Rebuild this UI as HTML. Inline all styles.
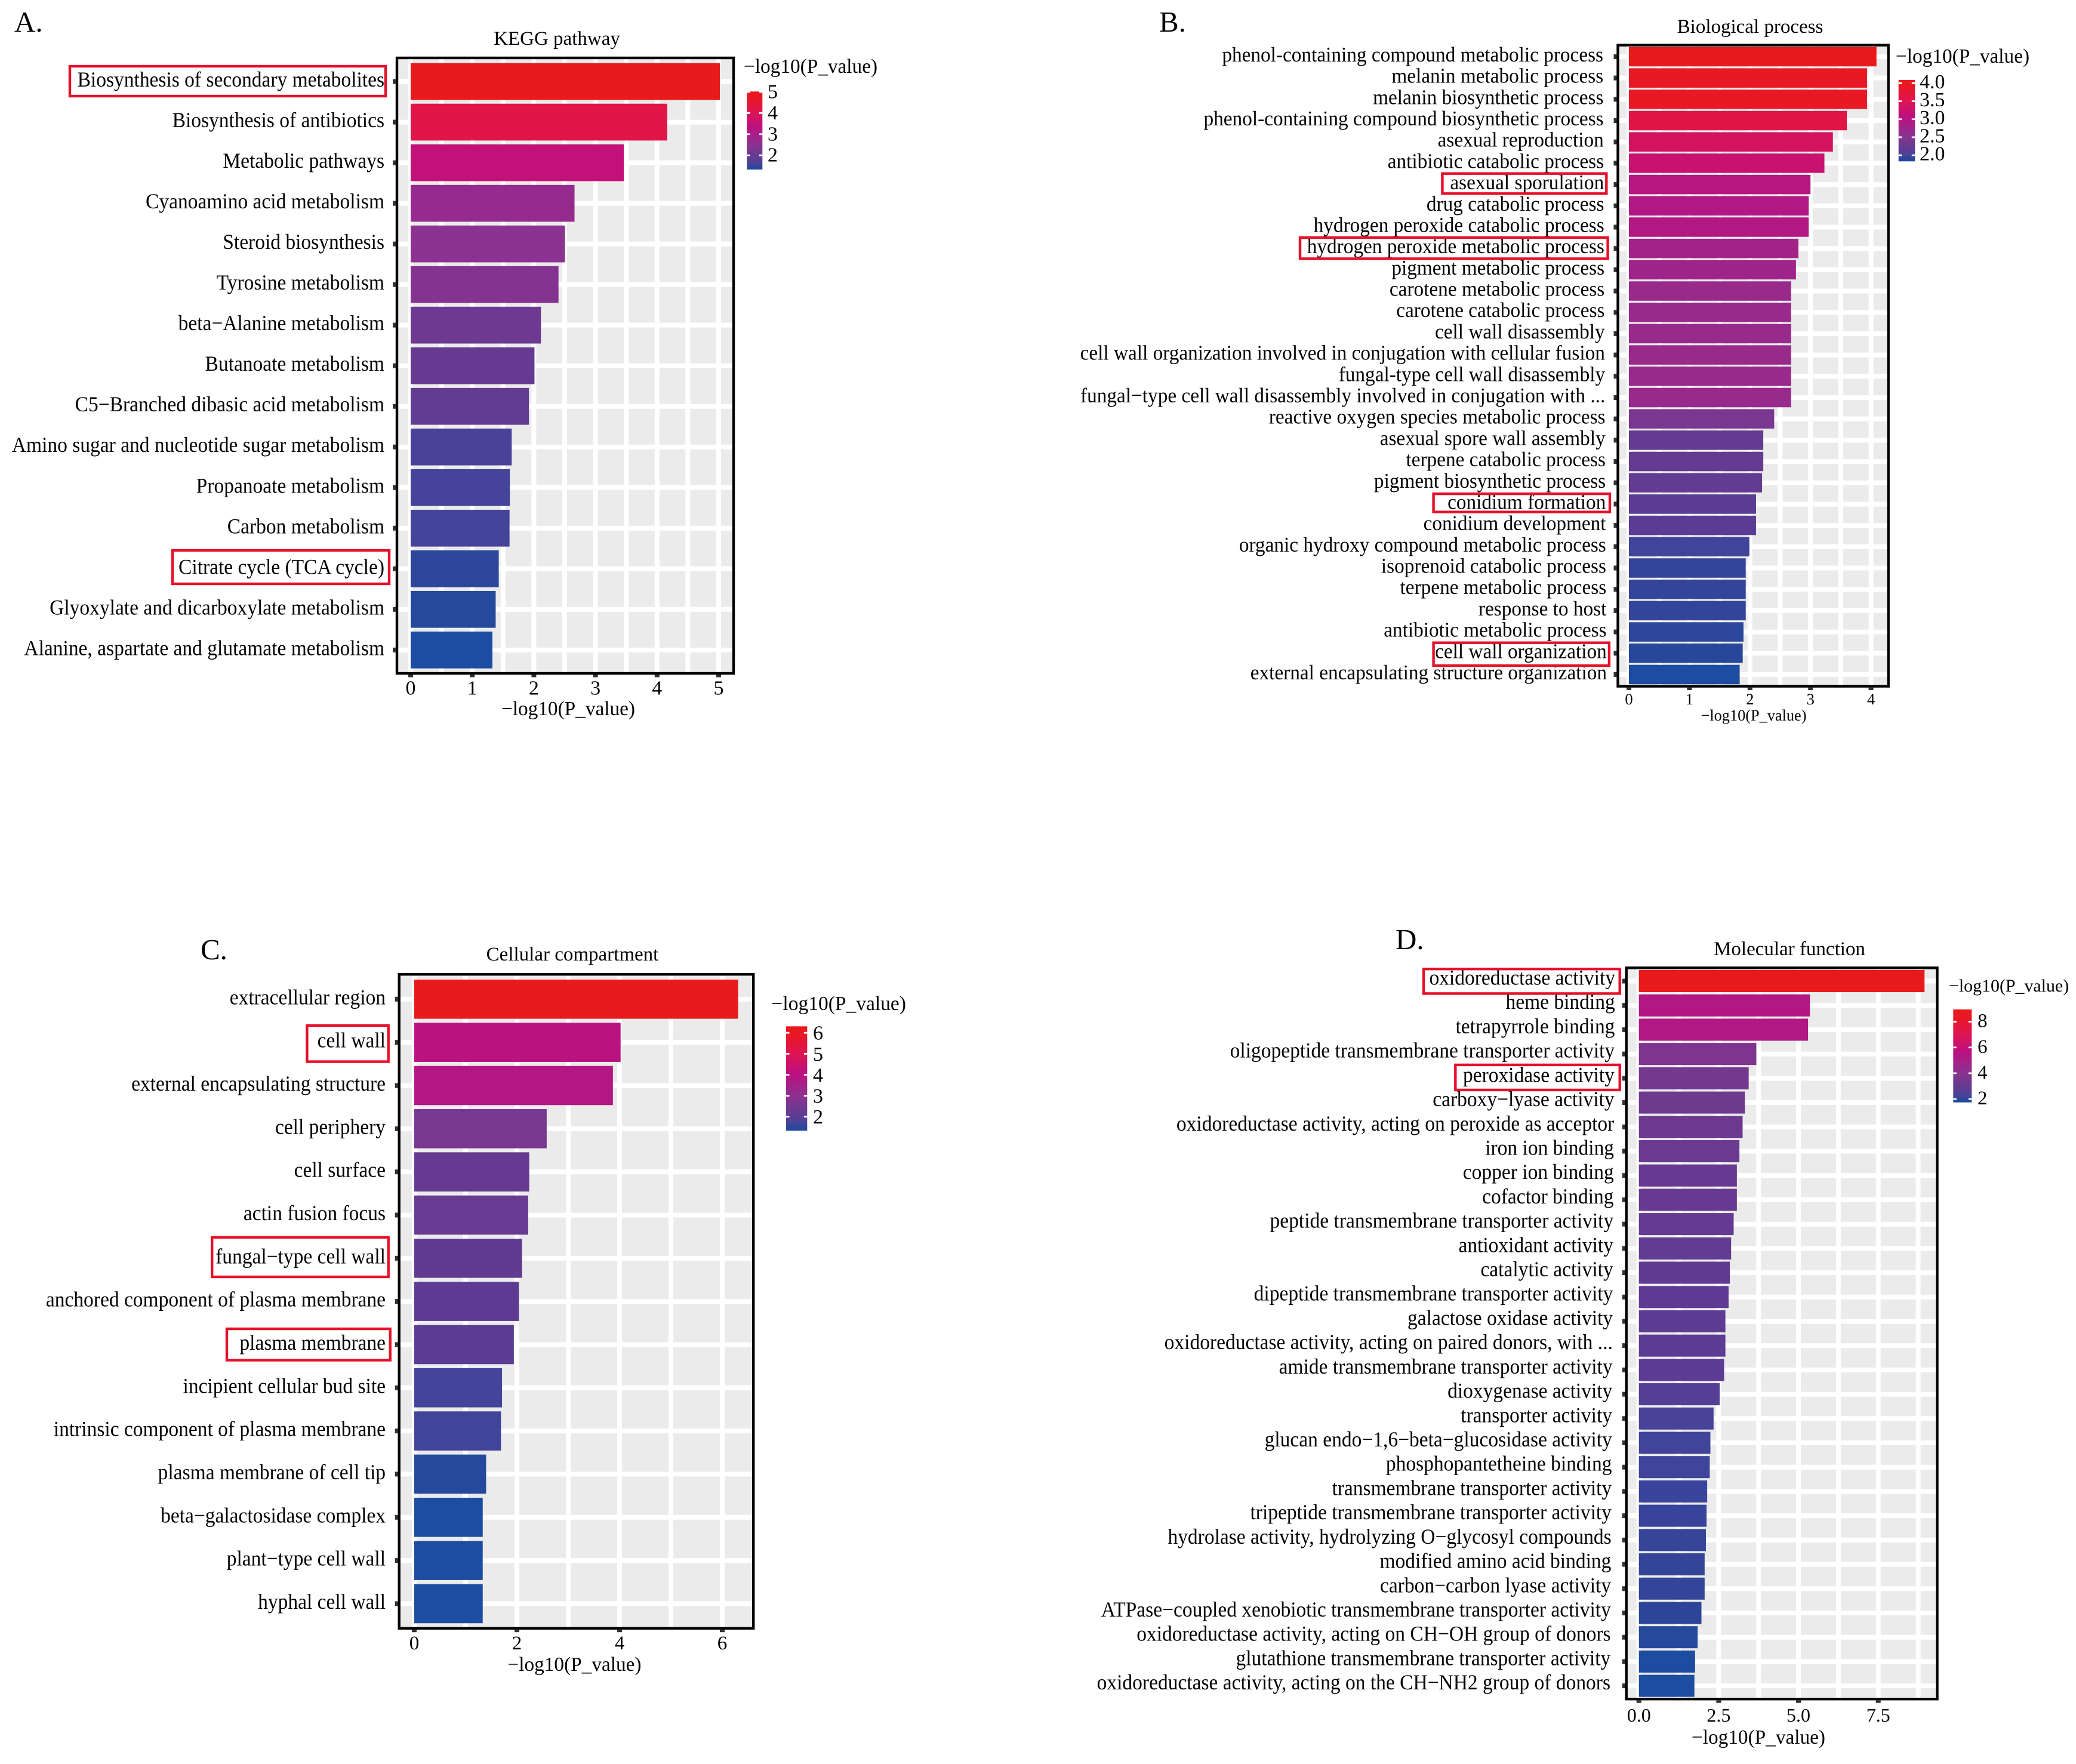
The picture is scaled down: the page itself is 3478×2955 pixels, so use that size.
<!DOCTYPE html>
<html lang="en">
<head>
<meta charset="utf-8">
<title>Enrichment bar charts: KEGG, BP, CC, MF</title>
<style>
html,body{margin:0;padding:0;background:#fff;}
svg{display:block;font-family:"Liberation Serif",serif;fill:#000;}
</style>
</head>
<body>
<svg id="figure" xmlns="http://www.w3.org/2000/svg" width="3478" height="2955" viewBox="0 0 3478 2955">
  <rect x="0" y="0" width="3478" height="2955" fill="#ffffff"/>
  <defs id="gradients"></defs>
  <text x="24" y="53" font-size="49">A.</text>
  <text x="1942" y="53" font-size="49">B.</text>
  <text x="336" y="1607" font-size="49">C.</text>
  <text x="2338" y="1590" font-size="49">D.</text>
  <text x="933" y="75" font-size="33" text-anchor="middle">KEGG pathway</text>
  <text x="2932" y="55" font-size="33" text-anchor="middle">Biological process</text>
  <text x="959" y="1609" font-size="33" text-anchor="middle">Cellular compartment</text>
  <text x="2998" y="1600" font-size="33" text-anchor="middle">Molecular function</text>
  <g id="chart-kegg"></g>
  <g id="chart-bio"></g>
  <g id="chart-cell"></g>
  <g id="chart-mol"></g>
</svg>
<script>
/* ---------- data ---------- */
const keggCategories = ["Biosynthesis of secondary metabolites","Biosynthesis of antibiotics","Metabolic pathways","Cyanoamino acid metabolism","Steroid biosynthesis","Tyrosine metabolism","beta−Alanine metabolism","Butanoate metabolism","C5−Branched dibasic acid metabolism","Amino sugar and nucleotide sugar metabolism","Propanoate metabolism","Carbon metabolism","Citrate cycle (TCA cycle)","Glyoxylate and dicarboxylate metabolism","Alanine, aspartate and glutamate metabolism"];
const keggValues = [5.02,4.165,3.46,2.66,2.505,2.40,2.115,2.01,1.92,1.64,1.61,1.605,1.43,1.38,1.327];
const keggXTicks = ["0","1","2","3","4","5"];
const keggLegendTicks = ["2","3","4","5"];

const bioCategories = ["phenol-containing compound metabolic process","melanin metabolic process","melanin biosynthetic process","phenol-containing compound biosynthetic process","asexual reproduction","antibiotic catabolic process","asexual sporulation","drug catabolic process","hydrogen peroxide catabolic process","hydrogen peroxide metabolic process","pigment metabolic process","carotene metabolic process","carotene catabolic process","cell wall disassembly","cell wall organization involved in conjugation with cellular fusion","fungal-type cell wall disassembly","fungal−type cell wall disassembly involved in conjugation with ...","reactive oxygen species metabolic process","asexual spore wall assembly","terpene catabolic process","pigment biosynthetic process","conidium formation","conidium development","organic hydroxy compound metabolic process","isoprenoid catabolic process","terpene metabolic process","response to host","antibiotic metabolic process","cell wall organization","external encapsulating structure organization"];
const bioValues = [4.09,3.935,3.935,3.60,3.37,3.23,3.00,2.97,2.97,2.80,2.76,2.68,2.68,2.68,2.68,2.68,2.68,2.40,2.22,2.22,2.20,2.10,2.10,1.99,1.93,1.93,1.93,1.893,1.88,1.83];
const bioXTicks = ["0","1","2","3","4"];
const bioLegendTicks = ["2.0","2.5","3.0","3.5","4.0"];

const cellCategories = ["extracellular region","cell wall","external encapsulating structure","cell periphery","cell surface","actin fusion focus","fungal−type cell wall","anchored component of plasma membrane","plasma membrane","incipient cellular bud site","intrinsic component of plasma membrane","plasma membrane of cell tip","beta−galactosidase complex","plant−type cell wall","hyphal cell wall"];
const cellValues = [6.31,4.02,3.87,2.58,2.24,2.22,2.10,2.04,1.94,1.71,1.69,1.40,1.334,1.334,1.334];
const cellXTicks = ["0","2","4","6"];
const cellLegendTicks = ["2","3","4","5","6"];

const molCategories = ["oxidoreductase activity","heme binding","tetrapyrrole binding","oligopeptide transmembrane transporter activity","peroxidase activity","carboxy−lyase activity","oxidoreductase activity, acting on peroxide as acceptor","iron ion binding","copper ion binding","cofactor binding","peptide transmembrane transporter activity","antioxidant activity","catalytic activity","dipeptide transmembrane transporter activity","galactose oxidase activity","oxidoreductase activity, acting on paired donors, with ...","amide transmembrane transporter activity","dioxygenase activity","transporter activity","glucan endo−1,6−beta−glucosidase activity","phosphopantetheine binding","transmembrane transporter activity","tripeptide transmembrane transporter activity","hydrolase activity, hydrolyzing O−glycosyl compounds","modified amino acid binding","carbon−carbon lyase activity","ATPase−coupled xenobiotic transmembrane transporter activity","oxidoreductase activity, acting on CH−OH group of donors","glutathione transmembrane transporter activity","oxidoreductase activity, acting on the CH−NH2 group of donors"];
const molValues = [8.95,5.36,5.30,3.68,3.44,3.32,3.25,3.15,3.07,3.07,2.97,2.89,2.85,2.81,2.71,2.71,2.67,2.53,2.34,2.24,2.22,2.14,2.12,2.10,2.06,2.06,1.96,1.84,1.76,1.739];
const molXTicks = ["0.0","2.5","5.0","7.5"];
const molLegendTicks = ["2","4","6","8"];

/* ---------- fill colour ramp (low to high) ---------- */
const rampOffsets = [0,0.03,0.075,0.12,0.2,0.32,0.55,0.75,0.9,1];
const rampColors = ["#1d4da1","#2c4599","#44449a","#5a3c94","#6a3a90","#8c3290","#bd1080","#e0154f","#e9172a","#e91a1b"];

/* ---------- layout only ---------- */
const labelSquash = 0.94;
const panels = [
  {id:"chart-kegg", key:"kegg", cats:keggCategories, vals:keggValues, ticks:keggXTicks, legTicks:keggLegendTicks,
   frame:[665,97,1229,1128], x0:688, unit:103.2, barTop:105.7, barH:61.7, step:68.02, labelRight:644, labelDrift:0, labelFs:33.5, labelDy:8.5,
   tickFs:34, tickY:1152, axisFs:33.3, axisX:952, axisY:1198,
   legTitleX:1246, legTitleY:122, legTitleFs:33.3, legBar:[1251.3,153.3,1277.3,284], legLabelX:1286, legFs:34, legDy:-1,
   boxes:[[115,109,648,163],[287,920,654,980]]},
  {id:"chart-bio", key:"bio", cats:bioCategories, vals:bioValues, ticks:bioXTicks, legTicks:bioLegendTicks,
   frame:[2710.5,75.6,3163.7,1149.6], x0:2729, unit:101.4, barTop:78.7, barH:32.5, step:35.69, labelRight:2686, labelDrift:6, labelFs:33.3, labelDy:8,
   tickFs:26.5, tickY:1171, axisFs:26.3, axisX:2938, axisY:1207,
   legTitleX:3176, legTitleY:105, legTitleFs:33.3, legBar:[3180.7,134,3208.3,270.3], legLabelX:3216, legFs:34, legDy:-3,
   boxes:[[2414.4,288.7,2693.3,326.3],[2176,396,2695.6,435.4],[2399.6,825.2,2699,859.7],[2399.6,1074.7,2697.9,1117]]},
  {id:"chart-cell", key:"cell", cats:cellCategories, vals:cellValues, ticks:cellXTicks, legTicks:cellLegendTicks,
   frame:[668.7,1632.2,1262.2,2727.7], x0:694, unit:86, barTop:1641, barH:65.6, step:72.33, labelRight:646, labelDrift:0, labelFs:33.5, labelDy:8.5,
   tickFs:33, tickY:2752, axisFs:33.3, axisX:962.5, axisY:2799,
   legTitleX:1292.5, legTitleY:1692, legTitleFs:33.5, legBar:[1317,1719.3,1352.3,1894], legLabelX:1362, legFs:34, legDy:0,
   boxes:[[512.4,1715.8,652.7,1780.5],[353.2,2070.7,652.7,2141],[378,2224,655.7,2280.5]]},
  {id:"chart-mol", key:"mol", cats:molCategories, vals:molValues, ticks:molXTicks, legTicks:molLegendTicks,
   frame:[2724.7,1621.3,3245.5,2846.2], x0:2745.7, unit:53.47, barTop:1625, barH:37, step:40.71, labelRight:2706, labelDrift:-8, labelFs:33.5, labelDy:6,
   tickFs:32, tickY:2873, axisFs:33.3, axisX:2946, axisY:2921,
   legTitleX:3265, legTitleY:1661, legTitleFs:29.9, legBar:[3272.3,1691,3303.3,1846.7], legLabelX:3313, legFs:33, legDy:-2,
   boxes:[[2383,1621.2,2715.7,1666.4],[2436.3,1781.9,2715.7,1827.9]]}
];

const NS = "http://www.w3.org/2000/svg";
function mk(parent, tag, attrs, content) {
  const el = document.createElementNS(NS, tag);
  for (const k in attrs) el.setAttribute(k, attrs[k]);
  if (content !== undefined) el.textContent = content;
  parent.appendChild(el);
  return el;
}
function slug(s) {
  return s.toLowerCase().replace(/[^a-z0-9]+/g, "-").replace(/^-|-$/g, "");
}
function hexRgb(h) {
  return [parseInt(h.slice(1,3),16), parseInt(h.slice(3,5),16), parseInt(h.slice(5,7),16)];
}
function rampColor(t) {
  const c = Math.max(0, Math.min(1, t));
  let i = 0;
  while (i < rampOffsets.length - 2 && c > rampOffsets[i + 1]) i++;
  const f = (c - rampOffsets[i]) / (rampOffsets[i + 1] - rampOffsets[i]);
  const a = hexRgb(rampColors[i]), b = hexRgb(rampColors[i + 1]);
  return "rgb(" + a.map((v, k) => Math.round(v + (b[k] - v) * f)).join(",") + ")";
}

const defs = document.getElementById("gradients");

panels.forEach(function (p) {
  const g = document.getElementById(p.id);
  const xScale = v => p.x0 + v * p.unit;
  const rowTop = i => p.barTop + i * p.step;
  const rowMid = i => rowTop(i) + p.barH / 2;
  const vMin = Math.min.apply(null, p.vals);
  const vMax = Math.max.apply(null, p.vals);
  const fillOf = v => rampColor((v - vMin) / (vMax - vMin));
  const [fl, ft, fr, fb] = p.frame;

  const bg = mk(g, "rect", {x: fl, y: ft, width: fr - fl, height: fb - ft, fill: "#ebebeb"});
  
  

  /* vertical grid: major at ticks, minor half-way between */
  const tickVals = p.ticks.map(Number);
  const tickStep = tickVals[1] - tickVals[0];
  for (let v = tickVals[0]; xScale(v) < fr; v += tickStep / 2) {
    const gl = mk(g, "line", {x1: xScale(v), x2: xScale(v), y1: ft, y2: fb, stroke: "#ffffff", "stroke-width": 8});
    
    
  }
  /* horizontal grid */
  p.cats.forEach(function (c, i) {
    const gl = mk(g, "line", {x1: fl, x2: fr, y1: rowMid(i), y2: rowMid(i), stroke: "#ffffff", "stroke-width": 8});
    
    
  });
  /* bars */
  p.vals.forEach(function (v, i) {
    const bar = mk(g, "rect", {x: xScale(0), y: rowTop(i), width: xScale(v) - xScale(0), height: p.barH, fill: fillOf(v)});
    
    
  });
  /* frame */
  const frame = mk(g, "rect", {x: fl, y: ft, width: fr - fl, height: fb - ft, fill: "none", stroke: "#000000", "stroke-width": 4.4});
  
  

  /* y ticks and labels */
  p.cats.forEach(function (c, i) {
    const tm = mk(g, "rect", {x: fl - 7, y: rowMid(i) - 4, width: 5, height: 8, fill: "#333333"});
    
    
    const lx = p.labelRight + p.labelDrift * i / (p.cats.length - 1);
    const ly = rowMid(i) + p.labelDy;
    const lb = mk(g, "text", {transform: "translate(" + lx + " " + ly + ") scale(" + labelSquash + " 1)", "font-size": p.labelFs / labelSquash, "text-anchor": "end"}, c);
    
    
  });

  /* x ticks and labels */
  p.ticks.forEach(function (t) {
    const x = xScale(Number(t));
    const tm = mk(g, "rect", {x: x - 4, y: fb + 2, width: 8, height: 4.5, fill: "#333333"});
    
    
    const lb = mk(g, "text", {x: x, y: p.tickY + p.tickFs * 0.338, "font-size": p.tickFs, "text-anchor": "middle"}, t);
    
    
  });

  const axisTitle = mk(g, "text", {x: p.axisX, y: p.axisY, "font-size": p.axisFs, "text-anchor": "middle"}, "−log10(P_value)");
  
  

  /* legend */
  const legendTitle = mk(g, "text", {x: p.legTitleX, y: p.legTitleY, "font-size": p.legTitleFs}, "−log10(P_value)");
  
  

  const grad = mk(defs, "linearGradient", {id: "grad-" + p.key, x1: 0, y1: 1, x2: 0, y2: 0});
  rampOffsets.forEach(function (o, k) {
    mk(grad, "stop", {offset: o, "stop-color": rampColors[k]});
  });

  const [lx0, ly0, lx1, ly1] = p.legBar;
  const legY = v => ly1 - (v - vMin) / (vMax - vMin) * (ly1 - ly0);
  const legendBar = mk(g, "rect", {x: lx0, y: ly0, width: lx1 - lx0, height: ly1 - ly0, fill: "url(#grad-" + p.key + ")"});
  
  

  p.legTicks.forEach(function (t) {
    const y = legY(Number(t));
    const left = mk(g, "rect", {x: lx0, y: y - 1.4, width: 5.5, height: 2.8, fill: "#ffffff"});
    
    
    const right = mk(g, "rect", {x: lx1 - 5.5, y: y - 1.4, width: 5.5, height: 2.8, fill: "#ffffff"});
    
    
    const lb = mk(g, "text", {x: p.legLabelX, y: y + p.legDy + p.legFs * 0.338, "font-size": p.legFs}, t);
    
    
  });

  /* red highlight boxes */
  p.boxes.forEach(function (b) {
    const box = mk(g, "rect", {x: b[0] + 2, y: b[1] + 2, width: b[2] - b[0] - 4, height: b[3] - b[1] - 4, fill: "none", stroke: "#e60f2a", "stroke-width": 4.4});
    
    
  });
});
</script>
</body>
</html>
